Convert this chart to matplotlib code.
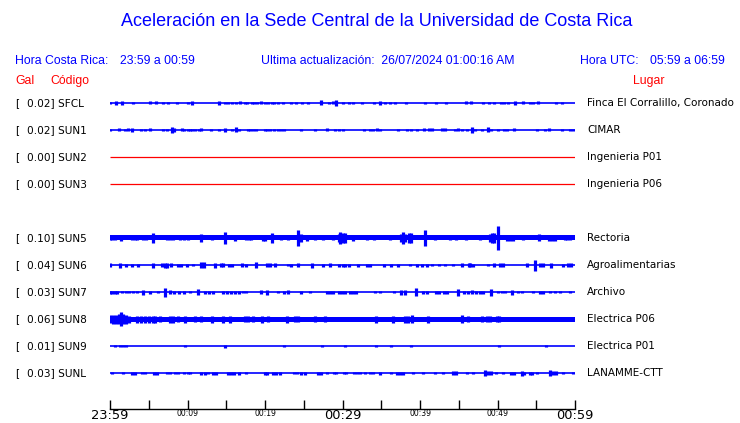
import matplotlib
matplotlib.use("Agg")
import matplotlib.pyplot as plt
import numpy as np

# Estaciones (de arriba hacia abajo), una fila vacia entre SUN3 y SUN5
codigos = ["SFCL", "SUN1", "SUN2", "SUN3", None, "SUN5", "SUN6", "SUN7", "SUN8", "SUN9", "SUNL"]
gal = ["0.02", "0.02", "0.00", "0.00", None, "0.10", "0.04", "0.03", "0.06", "0.01", "0.03"]
lugares = ["Finca El Corralillo, Coronado", "CIMAR", "Ingenieria P01", "Ingenieria P06", None,
           "Rectoria", "Agroalimentarias", "Archivo", "Electrica P06", "Electrica P01", "LANAMME-CTT"]
sin_datos = ["SUN2", "SUN3"]

# ruido de fondo (semi-amplitud, escala de pantalla)
ruido = {"SUN5": 2.5, "SUN8": 2.5}

# eventos: minuto desde 23:59 y semi-amplitud
t_SFCL = [0.0, 0.8, 1.5, 3.0, 5.1, 5.9, 6.8, 7.5, 8.7, 10.1, 10.6, 14.1, 14.8, 15.2, 15.8, 16.2, 16.8,
          17.4, 17.7, 18.3, 18.6, 19.0, 19.5, 20.0, 20.4, 20.9, 21.2, 21.7, 22.3, 23.3, 24.0, 24.8, 25.5,
          27.2, 28.2, 28.8, 29.1, 30.0, 30.8, 31.4, 32.5, 34.0, 34.8, 35.5, 36.1, 36.8, 38.2, 40.7, 42.0,
          43.4, 45.9, 46.6, 48.1, 48.9, 49.5, 50.5, 50.8, 51.4, 52.3, 53.3, 54.2, 54.6, 55.2, 57.6, 58.3]
a_SFCL = [1.2, 2, 2, 0.8, 1.5, 1.5, 1, 1, 1.2, 1, 1.8, 2, 1, 1, 1, 1, 1.5,
          1, 0.8, 1, 1, 1, 1.5, 1, 1, 1, 1, 1, 0.8, 1, 1, 1, 1,
          2.5, 1, 1.5, 3, 1, 0.8, 0.8, 0.8, 0.8, 1.8, 0.8, 0.8, 0.8, 1, 0.8, 0.8,
          1, 1.5, 1.5, 0.8, 1, 1, 1, 1, 1, 2, 1.5, 1, 1, 1.5, 1, 0.8]

t_SUN1 = [0.0, 1.2, 1.9, 2.3, 2.9, 4.0, 4.5, 5.2, 6.9, 7.3, 8.0, 8.3, 9.3, 9.5, 10.0, 10.3, 10.6, 11.0,
          11.5, 11.8, 13.0, 14.1, 14.8, 15.7, 16.3, 16.6, 17.8, 18.1, 18.4, 18.9, 20.0, 20.2, 20.6, 21.1,
          21.7, 22.0, 22.5, 24.7, 26.5, 28.0, 29.0, 29.5, 30.1, 32.8, 33.6, 33.9, 34.5, 34.8, 37.2, 38.3,
          38.9, 39.6, 40.5, 41.1, 41.5, 42.8, 43.2, 44.5, 44.9, 45.4, 46.0, 46.7, 47.1, 48.0, 48.8, 49.2,
          50.1, 50.9, 51.2, 52.1, 55.1, 56.1, 56.6, 58.3, 59.4, 59.8]
a_SUN1 = [1, 1.5, 1, 1.5, 1.8, 0.8, 0.8, 1.5, 1, 1, 3.3, 2, 1.5, 1, 1, 1, 1, 1,
          1, 1.5, 1, 1, 1.8, 1, 2.5, 1, 1, 1, 1, 1, 1, 1, 1, 1,
          1, 1, 1, 0.8, 1, 1.5, 1, 1, 1, 1, 1, 1, 1.5, 1, 0.8, 1,
          1, 1, 1.5, 1.5, 1.5, 1.5, 1.5, 1, 1.5, 1, 1, 3, 1, 1, 2.5, 1,
          1, 1, 1, 1.5, 1, 1, 1.5, 1.2, 1, 1]

t_SUN5 = [0.0, 0.3, 0.65, 1.38, 2.9, 3.2, 3.5, 4.2, 4.6, 5.6, 7.3, 7.7, 8.1, 9.0, 9.5, 10.0, 11.8, 13.1,
          14.8, 16.1, 17.6, 17.9, 18.2, 19.8, 20.0, 20.9, 22.0, 23.0, 24.2, 24.6, 25.4, 26.5, 27.5, 28.8,
          29.5, 29.7, 30.0, 30.3, 31.4, 33.1, 34.0, 36.1, 37.5, 37.8, 38.1, 38.6, 38.8, 40.6, 41.9, 43.9,
          44.6, 45.9, 47.7, 49.0, 49.3, 49.6, 50.0, 51.2, 51.6, 52.0, 53.3, 55.4, 56.6, 57.0, 57.4, 58.7,
          59.0, 59.3]
a_SUN5 = [2.5, 2.5, 2.5, 3, 2.5, 2.5, 2.5, 2.5, 2.5, 5, 2.5, 2.5, 2.5, 2.5, 2.5, 2.5, 4, 2.5,
          6, 3, 2.5, 2.5, 2.5, 3, 3, 5, 2.5, 2.5, 7.8, 4, 3, 2.5, 2.5, 2.5,
          4, 6, 5.5, 5, 3, 2.5, 2.5, 2.5, 4, 6, 4, 5, 5, 8, 2.5, 2.5,
          2.5, 2.5, 2.5, 4, 5, 5, 12, 3, 3, 3, 2.5, 3.5, 3, 3, 3, 2.5,
          2.5, 2.5]

t_SUN6 = [0.0, 1.3, 2.1, 2.8, 3.6, 5.5, 6.7, 7.1, 7.4, 7.9, 8.8, 9.2, 9.9, 10.7, 11.8, 12.1, 13.5, 14.3,
          14.6, 15.4, 15.7, 17.0, 17.6, 18.9, 20.2, 20.6, 21.3, 23.0, 23.4, 24.3, 26.0, 27.5, 28.4, 29.5,
          30.1, 30.3, 30.8, 32.0, 33.2, 33.6, 35.3, 36.3, 37.2, 38.7, 39.6, 40.2, 40.9, 41.5, 42.4, 43.2,
          44.3, 45.4, 46.3, 46.5, 46.9, 48.8, 49.5, 50.3, 50.7, 53.8, 54.8, 55.5, 55.9, 56.9, 58.5, 59.1,
          59.5]
a_SUN6 = [2, 2.5, 1.5, 1.5, 1.5, 2.5, 2, 2.5, 2.5, 2, 1.5, 1.5, 1.5, 1, 3, 3, 2.5, 2,
          2, 1.5, 1.5, 2, 1.5, 3, 2, 2, 2, 1, 1.5, 2, 2.5, 1.5, 2, 1.5,
          1.5, 1.5, 1.5, 1.5, 1.5, 1.5, 1.5, 1.5, 1.5, 1, 1.5, 1.5, 1.5, 1, 1, 1,
          1, 2, 2, 2, 1.5, 1, 2, 2, 2, 2, 5.5, 2, 2, 2.5, 1.5, 2,
          2]

t_SUN7 = [0.0, 0.3, 0.6, 0.9, 1.5, 2.0, 2.5, 3.0, 3.5, 4.3, 5.2, 6.2, 7.1, 7.7, 8.3, 8.9, 9.5, 10.3, 11.4,
          12.3, 12.8, 13.3, 14.6, 15.1, 15.6, 16.1, 16.6, 17.2, 17.6, 19.5, 20.3, 21.7, 22.4, 23.0, 24.7,
          25.8, 28.0, 28.4, 28.8, 29.5, 29.9, 30.3, 31.0, 31.4, 31.8, 34.2, 34.8, 36.6, 37.6, 38.0, 39.5,
          40.4, 40.9, 42.0, 42.5, 43.1, 43.5, 44.9, 45.7, 46.2, 46.7, 47.2, 47.7, 48.1, 49.2, 50.1, 50.6,
          51.0, 51.9, 52.6, 53.2, 54.6, 55.5, 55.9, 56.8, 57.4, 58.0, 59.3]
a_SUN7 = [1.5, 1.5, 1.5, 1.5, 1.2, 1.2, 1.2, 1.2, 1.2, 2.5, 1.5, 1.2, 4.5, 2, 1.5, 1.5, 1.5, 1.2, 3,
          1.5, 1.5, 1.5, 1.5, 1.5, 1.5, 1.5, 1.5, 1.2, 1.2, 2, 2.5, 1, 1.5, 2, 1.5,
          1.2, 1.5, 1.5, 1.5, 1.5, 1.5, 1.5, 1.5, 1.5, 1.5, 1, 1, 1, 2.5, 2.5, 4.3,
          1.5, 1.5, 1.5, 1.5, 1.5, 1.5, 3.5, 1.5, 1.5, 2, 1.5, 1.5, 1.5, 3.5, 1.2, 1.2,
          1.2, 2.5, 1.2, 1.2, 1, 1.5, 1.5, 1.2, 1.2, 1.2, 1]

t_SUN8 = [0.0, 0.4, 0.8, 1.1, 1.4, 1.7, 2.0, 2.4, 3.5, 4.0, 4.5, 5.0, 5.5, 5.8, 6.5, 7.8, 8.1, 8.8, 9.7,
          11.0, 11.8, 13.1, 14.6, 15.5, 17.4, 17.8, 18.5, 19.6, 20.4, 22.8, 23.9, 24.3, 26.4, 27.7, 34.3,
          36.5, 38.1, 38.5, 39.0, 41.0, 45.4, 46.2, 48.0, 48.6, 49.0, 49.9, 50.2]
a_SUN8 = [4, 4.5, 4.5, 5, 7, 5, 4.5, 3.5, 3.5, 3.5, 3.5, 3.5, 3.5, 3.5, 3, 3.5, 3.5, 3, 3.5,
          3, 3, 3.5, 3.5, 3.5, 3, 3, 3, 3.5, 3, 3.5, 3, 3, 3, 3, 3.5,
          3.5, 3.5, 3.5, 4, 3.5, 4, 3, 3, 3, 3, 3, 3]

t_SUN9 = [0.65, 1.3, 1.7, 2.1, 9.7, 14.8, 22.4, 27.4, 30.3, 34.3, 36.3, 38.8, 50.2, 56.3]
a_SUN9 = [1, 1, 1, 1, 0.8, 1.5, 0.8, 0.8, 0.8, 0.8, 0.8, 1, 1.2, 1.2]

t_SUNL = [0.2, 1.7, 2.8, 3.2, 4.1, 4.5, 5.7, 6.1, 7.4, 7.7, 8.4, 8.8, 9.5, 10.0, 10.3, 11.8, 12.2, 12.7,
          13.3, 13.7, 15.2, 15.6, 16.0, 16.6, 17.6, 20.0, 20.3, 21.0, 21.4, 21.9, 23.7, 24.1, 24.7, 25.1,
          26.8, 27.2, 28.0, 28.9, 29.2, 30.2, 30.5, 31.5, 31.9, 32.3, 32.9, 33.5, 33.9, 34.8, 36.3, 37.0,
          37.4, 37.8, 39.1, 40.4, 41.9, 43.0, 44.3, 44.6, 46.0, 46.9, 48.4, 48.8, 49.1, 49.8, 50.7, 51.7,
          52.1, 53.1, 53.4, 54.2, 54.5, 55.1, 56.8, 57.2, 57.6, 58.5, 59.7]
a_SUNL = [1, 1, 1.5, 1.5, 1, 1, 1.5, 1.5, 1.2, 1.2, 1.2, 1.2, 1, 1.2, 1.2, 1.5, 1.5, 1,
          1.5, 1.5, 1.5, 1.5, 1.5, 1.5, 1.2, 1.5, 1.5, 1.5, 1.5, 1.5, 1, 1, 1.5, 1.5,
          1.5, 1.5, 1, 1.2, 1.2, 1, 1, 1.2, 1.2, 1.2, 1.2, 1, 1, 1.5, 1, 1.5,
          1.5, 1.5, 1, 1, 1, 1, 2, 2, 1, 1, 3, 2, 2, 1.2, 1, 1.5,
          1.5, 2.5, 1.5, 1.5, 1.5, 1, 3, 2, 2, 1, 1]

eventos = {
    "SFCL": (t_SFCL, a_SFCL), "SUN1": (t_SUN1, a_SUN1), "SUN5": (t_SUN5, a_SUN5),
    "SUN6": (t_SUN6, a_SUN6), "SUN7": (t_SUN7, a_SUN7), "SUN8": (t_SUN8, a_SUN8),
    "SUN9": (t_SUN9, a_SUN9), "SUNL": (t_SUNL, a_SUNL),
}

tick_min = [0, 10, 20, 30, 40, 50, 60]
tick_txt = ["23:59", "00:09", "00:19", "00:29", "00:39", "00:49", "00:59"]
tick_big = [True, False, False, True, False, False, True]

AZUL = "#0000ff"
ROJO = "#ff0000"
W, H = 740, 423

fig = plt.figure(figsize=(W / 100, H / 100), dpi=100)
fig.patch.set_facecolor("white")

# panel de trazas: fila k centrada en y = 103 + 27k px
ax = fig.add_axes([110 / W, (H - 386.5) / H, 465 / W, 297 / H])
ax.set_xlim(0, 60)
ax.set_ylim(10.5, -0.5)
ax.axis("off")
esc = 1 / 27.0  # escala de amplitud a fila

for k, cod in enumerate(codigos):
    if cod is None:
        continue
    if cod in sin_datos:
        ax.plot([0, 60], [k, k], color=ROJO, lw=0.9, solid_capstyle="butt")
    else:
        ax.plot([0, 60], [k, k], color=AZUL, lw=1.2, solid_capstyle="butt")
        if cod in ruido:
            r = ruido[cod] * esc
            ax.fill_between([0, 60], k - r, k + r, color=AZUL, lw=0)
        t, a = eventos[cod]
        a = np.array(a) * esc
        ax.vlines(t, k - a, k + a, color=AZUL, lw=2.3)

    yk = (103 + 27 * k)
    fig.text(15 / W, 1 - yk / H, "[", fontsize=7.6, color="black", va="center", ha="left")
    fig.text(27 / W, 1 - yk / H, gal[k] + "] " + cod, fontsize=7.6, color="black", va="center", ha="left")
    fig.text(587 / W, 1 - yk / H, lugares[k], fontsize=7.5, color="black", va="center", ha="left")

# eje de tiempo
axt = fig.add_axes([110 / W, (H - 408.5) / H, 465 / W, 9 / H])
axt.set_xlim(0, 60)
axt.set_ylim(0, 1)
for s in ["top", "left", "right"]:
    axt.spines[s].set_visible(False)
axt.spines["bottom"].set_linewidth(1.0)
axt.set_yticks([])
axt.set_xticks(tick_min)
axt.set_xticks([5, 15, 25, 35, 45, 55], minor=True)
axt.tick_params(axis="x", which="both", direction="in", length=6.8, width=1.0, pad=0.3)
axt.set_xticklabels(tick_txt)
for lab, big in zip(axt.get_xticklabels(), tick_big):
    lab.set_fontsize(9.4 if big else 5.5)
axt.patch.set_alpha(0)

# titulos
fam = ["Liberation Sans", "DejaVu Sans"]
fig.text(377 / W, 1 - 22 / H, "Aceleración en la Sede Central de la Universidad de Costa Rica",
         fontsize=13, color=AZUL, ha="center", va="center", family=fam)
y1 = 1 - 61 / H
fs = 8.8
fig.text(15 / W, y1, "Hora Costa Rica:", fontsize=fs, color=AZUL, va="center", family=fam)
fig.text(120 / W, y1, "23:59 a 00:59", fontsize=fs, color=AZUL, va="center", family=fam)
fig.text(261 / W, y1, "Ultima actualización:  26/07/2024 01:00:16 AM", fontsize=fs, color=AZUL,
         va="center", family=fam)
fig.text(580 / W, y1, "Hora UTC:", fontsize=fs, color=AZUL, va="center", family=fam)
fig.text(650 / W, y1, "05:59 a 06:59", fontsize=fs, color=AZUL, va="center", family=fam)
y2 = 1 - 81 / H
fig.text(15 / W, y2, "Gal", fontsize=fs, color=ROJO, va="center", family=fam)
fig.text(50 / W, y2, "Código", fontsize=fs, color=ROJO, va="center", family=fam)
fig.text(633 / W, y2, "Lugar", fontsize=fs, color=ROJO, va="center", family=fam)

fig.savefig("out.png", dpi=100)
